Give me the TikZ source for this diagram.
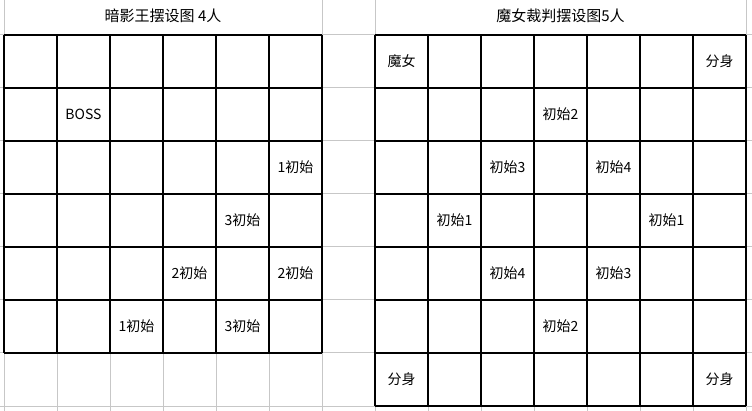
\documentclass[tikz,border=0pt]{standalone}
\usepackage{fontspec}
\setmainfont{Noto Sans CJK SC}
\begin{document}
\begin{tikzpicture}[x=1pt,y=-1pt]
              \tikzstyle{every node}+=[inner sep=0pt, font=\fontsize{14}{16}\selectfont]
              \tikzstyle{sheet}=[draw=black!22, line width=1pt]
              \tikzstyle{board}=[draw=black, line width=1.2pt]
              \useasboundingbox (0,0) rectangle (752,411);
              \fill [white] (0,0) rectangle (752,411);
              % spreadsheet lines
              \foreach \y in {35,88,...,406} \draw [sheet] (0,\y) -- (752,\y);
              \foreach \x in {57,110,...,269} \draw [sheet] (\x,35) -- (\x,411);
              \foreach \x in {428,481,...,693} \draw [sheet] (\x,35) -- (\x,411);
              \foreach \x in {4,322,375,746} \draw [sheet] (\x,0) -- (\x,411);
              % left board 6x6
              \foreach \i in {0,...,6} {
                \draw [board] (4+53*\i,35) -- (4+53*\i,353);
                \draw [board] (4,35+53*\i) -- (322,35+53*\i);
              }
              % right board 7x7
              \foreach \i in {0,...,7} {
                \draw [board] (375+53*\i,35) -- (375+53*\i,406);
                \draw [board] (375,35+53*\i) -- (746,35+53*\i);
              }
              \node [font=\fontsize{15}{17}\selectfont] (titleL) at (163,16) {暗影王摆设图 4人};
              \node [font=\fontsize{15}{17}\selectfont] (titleR) at (560.5,16) {魔女裁判摆设图5人};
              % left board texts
              \node (boss) at (83.5,114.5) {BOSS};
              \node (l1a) at (295.5,167.5) {1初始};
              \node (l3a) at (242.5,220.5) {3初始};
              \node (l2a) at (189.5,273.5) {2初始};
              \node (l2b) at (295.5,273.5) {2初始};
              \node (l1b) at (136.5,326.5) {1初始};
              \node (l3b) at (242.5,326.5) {3初始};
              % right board texts
              \node (witch) at (401.5,61.5) {魔女};
              \node (cloneA) at (719.5,61.5) {分身};
              \node (r2a) at (560.5,114.5) {初始2};
              \node (r3a) at (507.5,167.5) {初始3};
              \node (r4a) at (613.5,167.5) {初始4};
              \node (r1a) at (454.5,220.5) {初始1};
              \node (r1b) at (666.5,220.5) {初始1};
              \node (r4b) at (507.5,273.5) {初始4};
              \node (r3b) at (613.5,273.5) {初始3};
              \node (r2b) at (560.5,326.5) {初始2};
              \node (cloneB) at (401.5,379.5) {分身};
              \node (cloneC) at (719.5,379.5) {分身};
            \end{tikzpicture}
\end{document}
